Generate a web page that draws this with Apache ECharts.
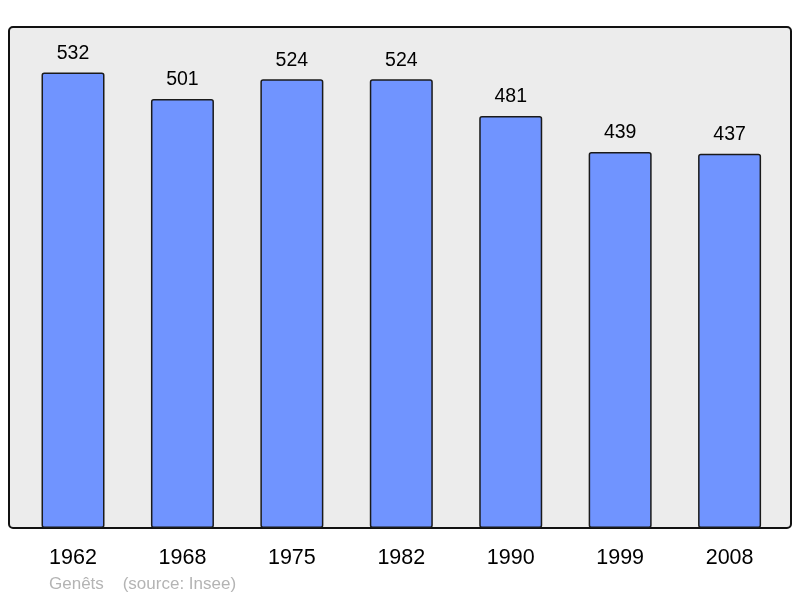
<!DOCTYPE html>
<html><head><meta charset="utf-8">
<script src="https://cdn.jsdelivr.net/npm/echarts@6/dist/echarts.min.js"></script>
<style>html,body{margin:0;padding:0;background:#fff}#c{width:800px;height:598px}</style>
</head><body><div id="c"></div>
<script>
var years = ['1962','1968','1975','1982','1990','1999','2008'];
var population = [532,501,524,524,481,439,437];
var footerText = 'Genêts    (source: Insee)';

var chart = echarts.init(document.getElementById('c'), null, {renderer:'canvas'});
chart.setOption({
  animation: false,
  backgroundColor: '#ffffff',
  textStyle: {fontFamily: 'Liberation Sans, Arial, sans-serif'},
  graphic: [
    {type:'rect', z:-10, shape:{x:9,y:27,width:782,height:501,r:4},
     style:{fill:'#ececec', stroke:'#111', lineWidth:2}},
    {type:'text', left:49, top:576, style:{text:footerText, fill:'#b4b4b4', font:'17px "Liberation Sans", Arial, sans-serif'}}
  ],
  grid: {left:18.3, right:15.7, top:27, bottom:70, containLabel:false},
  xAxis: {
    type:'category', data: years,
    axisLine:{show:false}, axisTick:{show:false},
    axisLabel:{color:'#000', fontSize:21.5, margin:19, fontFamily:'Liberation Sans, Arial, sans-serif'}
  },
  yAxis: {type:'value', min:0, max:585, show:false, splitLine:{show:false}},
  series: [{
    type:'bar', data: population, barWidth:63,
    itemStyle:{color:'#7094ff', borderColor:'#1a1a1a', borderWidth:1.5, borderRadius:2},
    label:{show:true, position:'top', distance:9, color:'#000', fontSize:19.5, fontFamily:'Liberation Sans, Arial, sans-serif'}
  }]
});
</script></body></html>
